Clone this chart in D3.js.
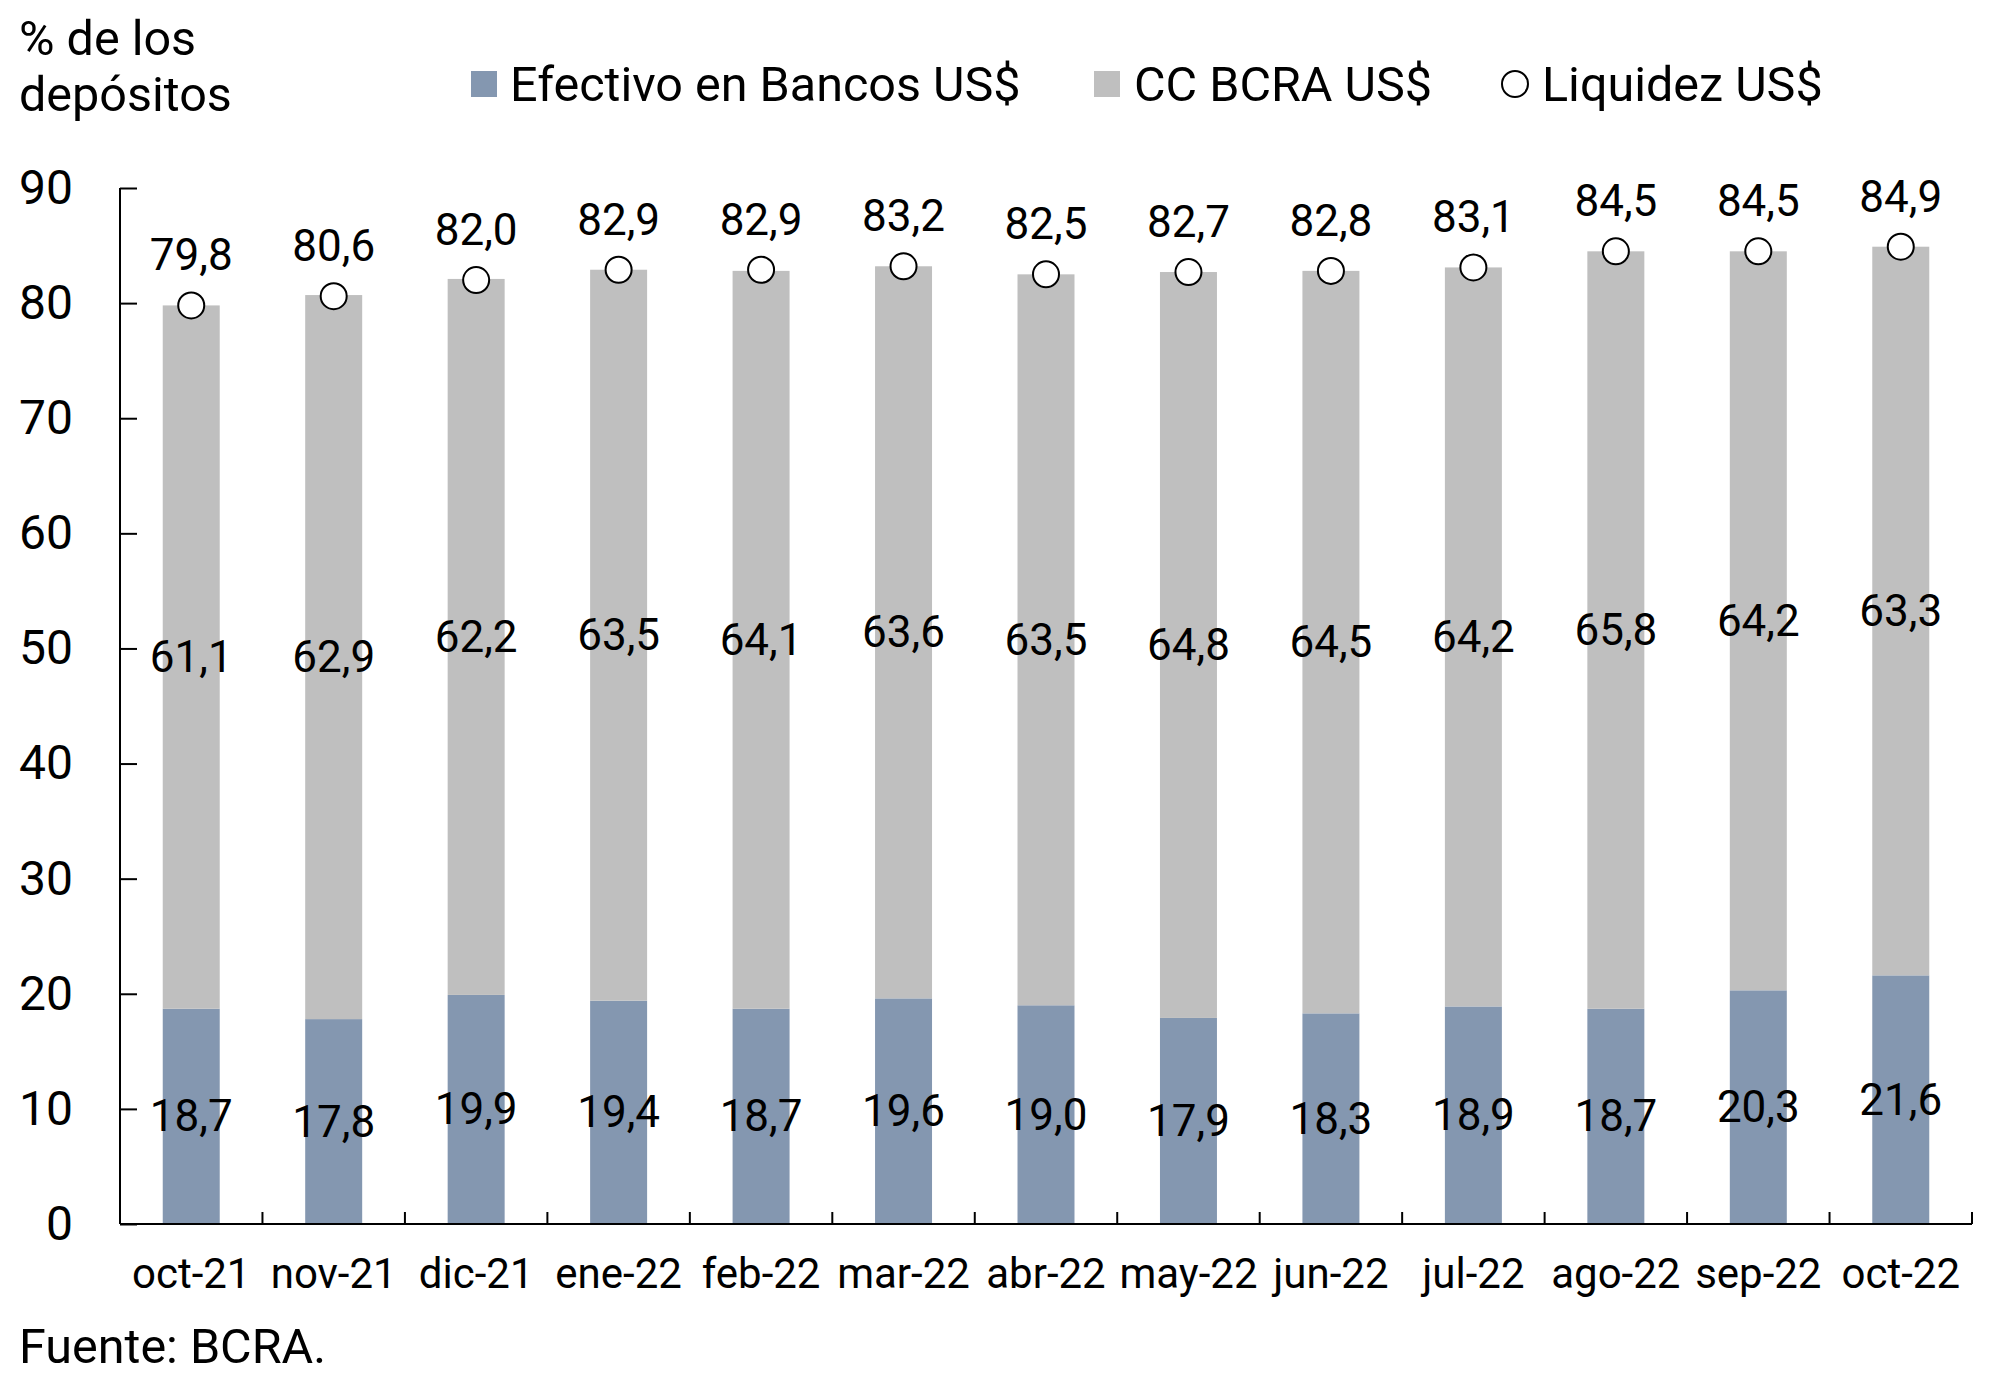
<!DOCTYPE html>
<html>
<head>
<meta charset="utf-8">
<script src="https://cdn.jsdelivr.net/npm/d3@7"></script>
<style>
  body { margin: 0; background: #fff; }
  svg text { font-family: Roboto, "Noto Sans", sans-serif; fill: #000; }
</style>
</head>
<body>
<div class="chart"></div>
<script>
const months = ["oct-21", "nov-21", "dic-21", "ene-22", "feb-22", "mar-22", "abr-22",
  "may-22", "jun-22", "jul-22", "ago-22", "sep-22", "oct-22"];
const efectivo = [18.7, 17.8, 19.9, 19.4, 18.7, 19.6, 19.0, 17.9, 18.3, 18.9, 18.7, 20.3, 21.6];
const ccBcra = [61.1, 62.9, 62.2, 63.5, 64.1, 63.6, 63.5, 64.8, 64.5, 64.2, 65.8, 64.2, 63.3];
const liquidez = [79.8, 80.6, 82.0, 82.9, 82.9, 83.2, 82.5, 82.7, 82.8, 83.1, 84.5, 84.5, 84.9];
const yTicks = [0, 10, 20, 30, 40, 50, 60, 70, 80, 90];

const width = 1999;
const height = 1399;
const colors = { efectivo: "#8497B0", cc: "#BFBFBF" };
const fmt = v => v.toFixed(1).replace(".", ",");

const svg = d3.select(".chart")
  .append("svg")
  .attr("width", width)
  .attr("height", height);

// scales
const xScale = d3.scaleBand()
  .domain(months)
  .range([120, 1972])
  .paddingInner(0.6)
  .paddingOuter(0.3);

const yScale = d3.scaleLinear()
  .domain([0, 90])
  .range([1224, 188]);

const rows = months.map((m, i) => ({
  month: m,
  efectivo: efectivo[i],
  cc: ccBcra[i],
  liquidez: liquidez[i]
}));

// stacked bars
const bars = svg.append("g").selectAll("g").data(rows).enter().append("g");

bars.append("rect")
  .attr("x", d => xScale(d.month))
  .attr("width", xScale.bandwidth())
  .attr("y", d => yScale(d.efectivo))
  .attr("height", d => yScale(0) - yScale(d.efectivo))
  .attr("fill", colors.efectivo);

bars.append("rect")
  .attr("x", d => xScale(d.month))
  .attr("width", xScale.bandwidth())
  .attr("y", d => yScale(d.efectivo + d.cc))
  .attr("height", d => yScale(d.efectivo) - yScale(d.efectivo + d.cc))
  .attr("fill", colors.cc);

// segment labels
bars.append("text")
  .attr("x", d => xScale(d.month) + xScale.bandwidth() / 2)
  .attr("y", d => yScale(d.efectivo / 2))
  .attr("text-anchor", "middle")
  .attr("dominant-baseline", "central")
  .style("font-size", "44px")
  .text(d => fmt(d.efectivo));

bars.append("text")
  .attr("x", d => xScale(d.month) + xScale.bandwidth() / 2)
  .attr("y", d => yScale(d.efectivo + d.cc / 2))
  .attr("text-anchor", "middle")
  .attr("dominant-baseline", "central")
  .style("font-size", "44px")
  .text(d => fmt(d.cc));

// axes
const yAxis = d3.axisLeft(yScale).tickValues(yTicks).tickSize(-17).tickPadding(47).tickFormat(d3.format("d"));
const yAxisGroup = svg.append("g")
  .attr("transform", `translate(${xScale.range()[0]}, 0)`)
  .call(yAxis);
yAxisGroup.select(".domain").attr("d", `M0,${yScale(90)}V${yScale(0)}`);

const boundaries = d3.range(1, months.length + 1).map(k => xScale.range()[0] + xScale.step() * k);
const xAxisGroup = svg.append("g").attr("class", "x-axis");
xAxisGroup.append("line")
  .attr("x1", xScale.range()[0]).attr("x2", xScale.range()[1])
  .attr("y1", yScale(0)).attr("y2", yScale(0))
  .attr("stroke", "#000").attr("stroke-width", 2);
xAxisGroup.selectAll(".tick-line").data(boundaries).enter().append("line")
  .attr("x1", d => d).attr("x2", d => d)
  .attr("y1", yScale(0)).attr("y2", yScale(0) - 12)
  .attr("stroke", "#000").attr("stroke-width", 2);
xAxisGroup.selectAll(".cat").data(months).enter().append("text")
  .attr("x", d => xScale(d) + xScale.bandwidth() / 2)
  .attr("y", 1288)
  .attr("text-anchor", "middle")
  .style("font-size", "42px")
  .text(d => d);

yAxisGroup.selectAll("path, line").attr("stroke", "#000").attr("stroke-width", 2);
yAxisGroup.selectAll("text").style("font-size", "48px").style("font-family", "Roboto").attr("fill", "#000");

// liquidez markers
const dots = svg.append("g").selectAll("g").data(rows).enter().append("g");
dots.append("circle")
  .attr("cx", d => xScale(d.month) + xScale.bandwidth() / 2)
  .attr("cy", d => yScale(d.liquidez))
  .attr("r", 13)
  .attr("fill", "#fff")
  .attr("stroke", "#000")
  .attr("stroke-width", 2);
dots.append("text")
  .attr("x", d => xScale(d.month) + xScale.bandwidth() / 2)
  .attr("y", d => yScale(d.liquidez) - 35)
  .attr("text-anchor", "middle")
  .style("font-size", "44px")
  .text(d => fmt(d.liquidez));

// title
svg.append("text").attr("x", 19).attr("y", 55).style("font-size", "48.5px").text("% de los");
svg.append("text").attr("x", 19).attr("y", 111).style("font-size", "48.5px").text("depósitos");

// legend
const legend = svg.append("g");
legend.append("rect").attr("x", 471).attr("y", 71).attr("width", 26).attr("height", 26).attr("fill", colors.efectivo);
legend.append("text").attr("x", 510).attr("y", 84).attr("dominant-baseline", "central").style("font-size", "48.5px").text("Efectivo en Bancos US$");
legend.append("rect").attr("x", 1094).attr("y", 71).attr("width", 26).attr("height", 26).attr("fill", colors.cc);
legend.append("text").attr("x", 1134).attr("y", 84).attr("dominant-baseline", "central").style("font-size", "48.5px").text("CC BCRA US$");
legend.append("circle").attr("cx", 1515).attr("cy", 84).attr("r", 13).attr("fill", "#fff").attr("stroke", "#000").attr("stroke-width", 2);
legend.append("text").attr("x", 1542).attr("y", 84).attr("dominant-baseline", "central").style("font-size", "48.5px").text("Liquidez US$");

// source
svg.append("text").attr("x", 19).attr("y", 1363).style("font-size", "48.5px").text("Fuente: BCRA.");
</script>
</body>
</html>
